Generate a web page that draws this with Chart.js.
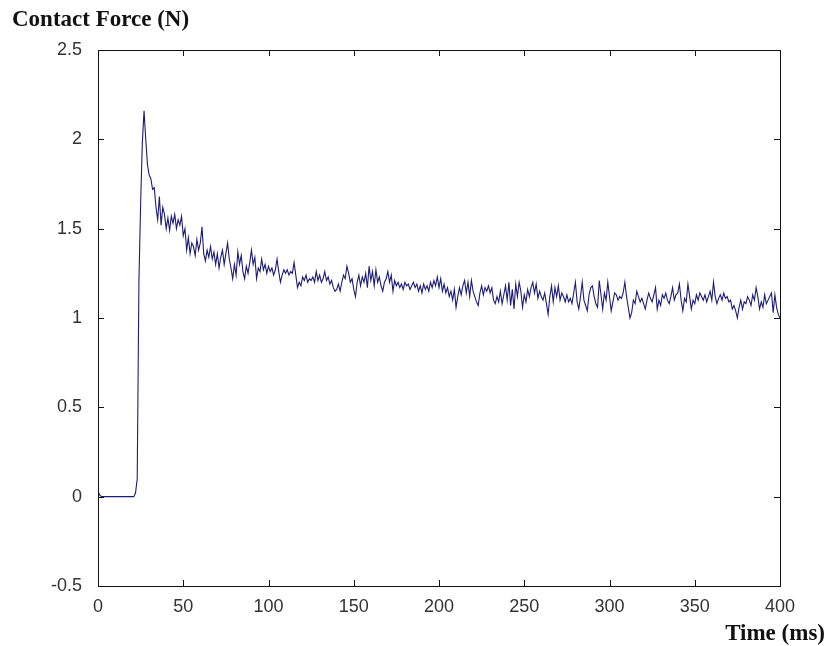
<!DOCTYPE html>
<html>
<head>
<meta charset="utf-8">
<script src="https://cdn.jsdelivr.net/npm/chart.js@4"></script>
<style>
  html, body { margin: 0; padding: 0; background: #fff; }
  #wrap { width: 828px; height: 646px; }
</style>
</head>
<body>
<div id="wrap"><canvas id="force_chart" width="828" height="646"></canvas></div>
<script>
// sample spacing of the recording (ms)
const timeStepMs = 1;

// contact force (N), one value per ms from 0 to 400 ms
const forceN = [
  0.03, 0.01, 0, 0, 0, 0, 0, 0, 0, 0,
  0, 0, 0, 0, 0, 0, 0, 0, 0, 0,
  0, 0, 0.02, 0.10, 1.20, 1.64, 1.98, 2.16, 2.00, 1.86,
  1.80, 1.78, 1.72, 1.73, 1.62, 1.55, 1.68, 1.52, 1.62, 1.58,
  1.50, 1.56, 1.49, 1.57, 1.53, 1.58, 1.50, 1.55, 1.52, 1.57,
  1.46, 1.50, 1.38, 1.45, 1.36, 1.42, 1.40, 1.35, 1.44, 1.38,
  1.42, 1.51, 1.36, 1.32, 1.38, 1.34, 1.40, 1.33, 1.37, 1.30,
  1.36, 1.28, 1.34, 1.38, 1.30, 1.36, 1.42, 1.33, 1.28, 1.22,
  1.30, 1.24, 1.37, 1.30, 1.35, 1.26, 1.22, 1.29, 1.25, 1.31,
  1.38, 1.30, 1.34, 1.22, 1.28, 1.26, 1.33, 1.27, 1.30, 1.25,
  1.29, 1.26, 1.28, 1.24, 1.27, 1.33, 1.26, 1.20, 1.24, 1.27,
  1.25, 1.27, 1.24, 1.26, 1.25, 1.31, 1.24, 1.17, 1.20, 1.18,
  1.23, 1.21, 1.24, 1.20, 1.22, 1.21, 1.23, 1.20, 1.26, 1.21,
  1.24, 1.20, 1.22, 1.26, 1.21, 1.23, 1.19, 1.21, 1.17, 1.15,
  1.16, 1.19, 1.15, 1.20, 1.24, 1.22, 1.29, 1.25, 1.20, 1.22,
  1.16, 1.12, 1.20, 1.24, 1.18, 1.23, 1.20, 1.25, 1.17, 1.29,
  1.21, 1.26, 1.18, 1.27, 1.20, 1.23, 1.18, 1.15, 1.20, 1.22,
  1.26, 1.20, 1.24, 1.15, 1.21, 1.18, 1.20, 1.17, 1.19, 1.16,
  1.20, 1.18, 1.19, 1.16, 1.18, 1.20, 1.17, 1.19, 1.15, 1.18,
  1.14, 1.19, 1.16, 1.18, 1.15, 1.20, 1.17, 1.21, 1.18, 1.23,
  1.17, 1.22, 1.15, 1.19, 1.14, 1.17, 1.12, 1.15, 1.10, 1.16,
  1.06, 1.12, 1.17, 1.13, 1.18, 1.21, 1.14, 1.20, 1.12, 1.21,
  1.15, 1.12, 1.09, 1.07, 1.14, 1.18, 1.13, 1.17, 1.15, 1.18,
  1.14, 1.17, 1.10, 1.08, 1.12, 1.09, 1.15, 1.08, 1.13, 1.18,
  1.10, 1.20, 1.07, 1.16, 1.05, 1.19, 1.12, 1.20, 1.15, 1.06,
  1.13, 1.09, 1.16, 1.12, 1.17, 1.20, 1.14, 1.19, 1.11, 1.15,
  1.12, 1.10, 1.14, 1.08, 1.02, 1.12, 1.18, 1.09, 1.17, 1.12,
  1.18, 1.10, 1.14, 1.12, 1.09, 1.13, 1.09, 1.11, 1.08, 1.14,
  1.20, 1.09, 1.05, 1.12, 1.20, 1.10, 1.07, 1.04, 1.13, 1.17,
  1.18, 1.12, 1.08, 1.06, 1.21, 1.13, 1.05, 1.14, 1.10, 1.20,
  1.12, 1.04, 1.09, 1.14, 1.13, 1.10, 1.12, 1.11, 1.14, 1.20,
  1.12, 1.06, 1.00, 1.03, 1.10, 1.08, 1.15, 1.12, 1.09, 1.11,
  1.08, 1.05, 1.10, 1.14, 1.11, 1.09, 1.13, 1.17, 1.05, 1.10,
  1.07, 1.13, 1.11, 1.14, 1.10, 1.08, 1.12, 1.17, 1.10, 1.13,
  1.14, 1.19, 1.10, 1.04, 1.11, 1.09, 1.19, 1.12, 1.05, 1.10,
  1.08, 1.13, 1.10, 1.14, 1.12, 1.10, 1.13, 1.09, 1.12, 1.15,
  1.10, 1.20, 1.12, 1.08, 1.11, 1.13, 1.10, 1.14, 1.11, 1.12,
  1.09, 1.10, 1.05, 1.07, 1.04, 1.00, 1.06, 1.10, 1.05, 1.09,
  1.08, 1.12, 1.10, 1.07, 1.13, 1.10, 1.17, 1.12, 1.05, 1.09,
  1.06, 1.13, 1.08, 1.10, 1.12, 1.14, 1.03, 1.13, 1.06, 1.02,
  1.00
];

// axis settings
const xMin = 0, xMax = 400, xStep = 50;
const yMin = -0.5, yMax = 2.5, yStep = 0.5;
const yTitle = 'Contact Force (N)';
const xTitle = 'Time (ms)';

const tickFont = { family: "'Liberation Sans', Arial, sans-serif", size: 18 };
const titleFont = "bold 23px 'Liberation Serif', 'Times New Roman', serif";

// matlab style box with inward ticks on all sides + the two axis captions
const matlabFrame = {
    id: 'matlabFrame',
    afterDatasetsDraw(chart){
        const ctx = chart.ctx;
        const a = chart.chartArea;
        const sx = chart.scales.x, sy = chart.scales.y;
        const tl = 6;
        ctx.save();
        ctx.strokeStyle = '#111';
        ctx.lineWidth = 1;
        ctx.beginPath();
        sx.ticks.forEach(t => {
            const px = Math.round(sx.getPixelForValue(t.value)) + 0.5;
            ctx.moveTo(px, a.bottom); ctx.lineTo(px, a.bottom - tl);
            ctx.moveTo(px, a.top); ctx.lineTo(px, a.top + tl);
        });
        sy.ticks.forEach(t => {
            const py = Math.round(sy.getPixelForValue(t.value)) + 0.5;
            ctx.moveTo(a.left, py); ctx.lineTo(a.left + tl, py);
            ctx.moveTo(a.right, py); ctx.lineTo(a.right - tl, py);
        });
        ctx.stroke();
        ctx.strokeRect(Math.round(a.left) + 0.5, Math.round(a.top) + 0.5,
                       Math.round(a.right - a.left), Math.round(a.bottom - a.top));

        ctx.fillStyle = '#111';
        ctx.font = titleFont;
        ctx.textBaseline = 'alphabetic';
        ctx.textAlign = 'left';
        ctx.fillText(yTitle, 12, 26);
        ctx.textAlign = 'right';
        ctx.fillText(xTitle, 825, 640);
        ctx.restore();
    }
};

const ctx = document.getElementById('force_chart');
const chart = new Chart(ctx, {
    type: 'line',
    data: {
        datasets: [{
            label: yTitle,
            data: forceN.map((v, i) => ({ x: i * timeStepMs, y: v })),
            borderColor: '#1c1c78',
            borderWidth: 1.1,
            pointRadius: 0,
            tension: 0,
            fill: false,
        }]
    },
    options: {
        responsive: false,
        animation: false,
        layout: { padding: { top: 50, right: 48, left: 0, bottom: 0 } },
        scales: {
            x: {
                type: 'linear',
                min: xMin, max: xMax,
                grid: { display: false },
                border: { display: false },
                ticks: { stepSize: xStep, color: '#333', font: tickFont, padding: 2, maxRotation: 0 },
                afterFit(scale){ scale.height = 60; }
            },
            y: {
                min: yMin, max: yMax,
                grid: { display: false },
                border: { display: false },
                ticks: { stepSize: yStep, color: '#333', font: tickFont, padding: 8,
                         callback: v => String(v) },
                afterFit(scale){ scale.width = 98; }
            }
        },
        plugins: {
            legend: { display: false },
            tooltip: { enabled: false }
        }
    },
    plugins: [matlabFrame]
});
</script>
</body>
</html>
